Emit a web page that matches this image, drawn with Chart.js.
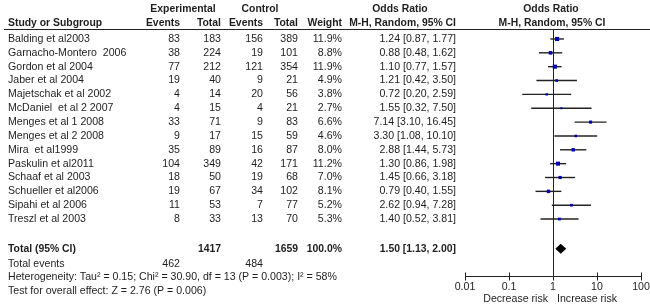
<!DOCTYPE html>
<html>
<head>
<meta charset="utf-8">
<script src="https://cdn.jsdelivr.net/npm/chart.js@4.4.1/dist/chart.umd.min.js"></script>
<style>
  html, body { margin: 0; padding: 0; background: #fff; }
</style>
</head>
<body>
<canvas id="forest" width="650" height="307"></canvas>
<script>
// study rows
const studies = [
  'Balding et al2003', 'Garnacho-Montero  2006', 'Gordon et al 2004', 'Jaber et al 2004',
  'Majetschak et al 2002', 'McDaniel  et al 2 2007', 'Menges et al 1 2008', 'Menges et al 2 2008',
  'Mira  et al1999', 'Paskulin et al2011', 'Schaaf et al 2003', 'Schueller et al2006',
  'Sipahi et al 2006', 'Treszl et al 2003'
];
const expEvents = [83, 38, 77, 19, 4, 4, 33, 9, 35, 104, 18, 19, 11, 8];
const expTotal = [183, 224, 212, 40, 14, 15, 71, 17, 89, 349, 50, 67, 53, 33];
const ctlEvents = [156, 19, 121, 9, 20, 4, 9, 15, 16, 42, 19, 34, 7, 13];
const ctlTotal = [389, 101, 354, 21, 56, 21, 83, 59, 87, 171, 68, 102, 77, 70];
const weights = [11.9, 8.8, 11.9, 4.9, 3.8, 2.7, 6.6, 4.6, 8.0, 11.2, 7.0, 8.1, 5.2, 5.3];
const oddsRatio = [1.24, 0.88, 1.10, 1.21, 0.72, 1.55, 7.14, 3.30, 2.88, 1.30, 1.45, 0.79, 2.62, 1.40];
const ciLow = [0.87, 0.48, 0.77, 0.42, 0.20, 0.32, 3.10, 1.08, 1.44, 0.86, 0.66, 0.40, 0.94, 0.52];
const ciHigh = [1.77, 1.62, 1.57, 3.50, 2.59, 7.50, 16.45, 10.10, 5.73, 1.98, 3.18, 1.55, 7.28, 3.81];

// pooled result
const totalExp = 1417;
const totalCtl = 1659;
const totalEventsExp = 462;
const totalEventsCtl = 484;
const pooled = [1.50, 1.13, 2.00]; // OR, low, high

const axisTicks = [0.01, 0.1, 1, 10, 100];
const axisLabels = ['0.01', '0.1', '1', '10', '100'];

const FONT = '"Liberation Sans", Arial, sans-serif';
const INK = '#1e1e1e';
const TOTAL_ROW = 15.15;

function fmt(v) { return v.toFixed(2); }

function text(ctx, str, x, y, align, bold) {
  ctx.font = bold ? 'bold 10.4px ' + FONT : '10.6px ' + FONT;
  ctx.textAlign = align;
  ctx.fillText(str, x, y);
}

const forestTable = {
  id: 'forestTable',
  beforeDatasetsDraw(chart) {
    const ctx = chart.ctx;
    const xs = chart.scales.x;
    const area = chart.chartArea;
    const x1 = Math.round(xs.getPixelForValue(1)) + 0.5;
    const yAxis = area.bottom + 0.5;
    ctx.save();
    ctx.strokeStyle = '#222';
    ctx.lineWidth = 1;
    // header rule
    ctx.beginPath();
    ctx.moveTo(4, area.top + 0.5);
    ctx.lineTo(650, area.top + 0.5);
    // line of no effect
    ctx.moveTo(x1, area.top);
    ctx.lineTo(x1, yAxis);
    // x axis
    ctx.moveTo(xs.getPixelForValue(axisTicks[0]), yAxis);
    ctx.lineTo(xs.getPixelForValue(axisTicks[axisTicks.length - 1]), yAxis);
    axisTicks.forEach(t => {
      const px = Math.round(xs.getPixelForValue(t)) + 0.5;
      ctx.moveTo(px, yAxis - 4);
      ctx.lineTo(px, yAxis + 4);
    });
    ctx.stroke();
    ctx.restore();
  },
  afterDatasetsDraw(chart) {
    const ctx = chart.ctx;
    const xs = chart.scales.x;
    const ys = chart.scales.y;
    const area = chart.chartArea;
    ctx.save();
    ctx.fillStyle = INK;
    ctx.textBaseline = 'middle';

    // headers
    text(ctx, 'Experimental', 183, 9, 'center', true);
    text(ctx, 'Control', 260, 9, 'center', true);
    text(ctx, 'Odds Ratio', 400, 9, 'center', true);
    text(ctx, 'Odds Ratio', 551, 9, 'center', true);
    text(ctx, 'Study or Subgroup', 8, 23, 'left', true);
    text(ctx, 'Events', 180, 23, 'right', true);
    text(ctx, 'Total', 221, 23, 'right', true);
    text(ctx, 'Events', 263, 23, 'right', true);
    text(ctx, 'Total', 298, 23, 'right', true);
    text(ctx, 'Weight', 342, 23, 'right', true);
    text(ctx, 'M-H, Random, 95% CI', 456, 23, 'right', true);
    text(ctx, 'M-H, Random, 95% CI', 552, 23, 'center', true);

    // study rows
    studies.forEach((s, i) => {
      const y = ys.getPixelForValue(i);
      text(ctx, s, 8, y, 'left', false);
      text(ctx, String(expEvents[i]), 180, y, 'right', false);
      text(ctx, String(expTotal[i]), 221, y, 'right', false);
      text(ctx, String(ctlEvents[i]), 263, y, 'right', false);
      text(ctx, String(ctlTotal[i]), 298, y, 'right', false);
      text(ctx, weights[i].toFixed(1) + '%', 342, y, 'right', false);
      text(ctx, fmt(oddsRatio[i]) + ' [' + fmt(ciLow[i]) + ', ' + fmt(ciHigh[i]) + ']', 456, y, 'right', false);
    });

    // total row
    const yT = ys.getPixelForValue(TOTAL_ROW);
    text(ctx, 'Total (95% CI)', 8, yT, 'left', true);
    text(ctx, String(totalExp), 221, yT, 'right', true);
    text(ctx, String(totalCtl), 298, yT, 'right', true);
    text(ctx, '100.0%', 342, yT, 'right', true);
    text(ctx, fmt(pooled[0]) + ' [' + fmt(pooled[1]) + ', ' + fmt(pooled[2]) + ']', 456, yT, 'right', true);

    // footer
    const yE = ys.getPixelForValue(16.25);
    text(ctx, 'Total events', 8, yE, 'left', false);
    text(ctx, String(totalEventsExp), 180, yE, 'right', false);
    text(ctx, String(totalEventsCtl), 263, yE, 'right', false);
    text(ctx, 'Heterogeneity: Tau\u00b2 = 0.15; Chi\u00b2 = 30.90, df = 13 (P = 0.003); I\u00b2 = 58%', 8, ys.getPixelForValue(17.2), 'left', false);
    text(ctx, 'Test for overall effect: Z = 2.76 (P = 0.006)', 8, ys.getPixelForValue(18.2), 'left', false);

    // pooled diamond
    ctx.fillStyle = '#000';
    ctx.beginPath();
    ctx.moveTo(xs.getPixelForValue(pooled[1]), yT);
    ctx.lineTo(xs.getPixelForValue(pooled[0]), yT - 5);
    ctx.lineTo(xs.getPixelForValue(pooled[2]), yT);
    ctx.lineTo(xs.getPixelForValue(pooled[0]), yT + 5);
    ctx.closePath();
    ctx.fill();

    // axis labels
    ctx.fillStyle = INK;
    const yLab = area.bottom + 11;
    axisTicks.forEach((t, k) => {
      text(ctx, axisLabels[k], xs.getPixelForValue(t), yLab, 'center', false);
    });
    const x1 = xs.getPixelForValue(1);
    text(ctx, 'Decrease risk', x1 - 5, area.bottom + 23, 'right', false);
    text(ctx, 'Increase risk', x1 + 4, area.bottom + 23, 'left', false);
    ctx.restore();
  }
};

const datasets = [{
  type: 'scatter',
  label: 'OR',
  data: studies.map((s, i) => ({ x: oddsRatio[i], y: i })),
  pointStyle: 'rect',
  pointRadius: weights.map(w => 1.2 * Math.sqrt(w) / Math.SQRT2),
  backgroundColor: '#0000b4',
  borderColor: '#0000b4',
  borderWidth: 0,
  order: 0
}];
studies.forEach((s, i) => {
  datasets.push({
    type: 'line',
    label: s,
    data: [{ x: ciLow[i], y: i }, { x: ciHigh[i], y: i }],
    borderColor: '#222',
    borderWidth: 1.4,
    pointRadius: 0,
    order: 1
  });
});

new Chart(document.getElementById('forest'), {
  type: 'scatter',
  data: { datasets: datasets },
  options: {
    responsive: false,
    animation: false,
    devicePixelRatio: 1,
    layout: { padding: { left: 465, right: 9, top: 29, bottom: 31 } },
    scales: {
      x: { type: 'logarithmic', min: 0.01, max: 100, display: false },
      y: { type: 'linear', min: -0.72, max: 17.11, reverse: true, display: false }
    },
    plugins: {
      legend: { display: false },
      tooltip: { enabled: false }
    }
  },
  plugins: [forestTable]
});
</script>
</body>
</html>
